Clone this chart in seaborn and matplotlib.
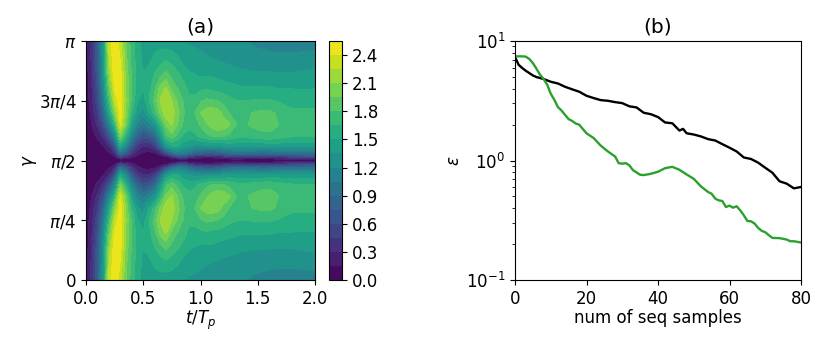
import numpy as np
import pandas as pd
import seaborn as sns
import matplotlib.pyplot as plt

# panel (a), values, lower half only (upper half is its mirror)
gamma_frac = [0, .1, .15, .2, .25, .3, .35, .4, .44, .47, .485, .495, .5]
t_vals = [0, .05, .1, .15, .2, .25, .3, .35, .4, .45, .5, .55, .6, .65, .7, .75, .8, .85, .9, .95,
          1.0, 1.05, 1.1, 1.15, 1.2, 1.25, 1.3, 1.35, 1.4, 1.45, 1.5, 1.55, 1.6, 1.65, 1.7, 1.75, 1.8, 1.9, 2.0]
# one list per t value, running up through gamma_frac
cols = [
    [.08, .07, .06, .05, .04, .03, .02, .01, 0, 0, 0, 0, 0],
    [.35, .33, .3, .28, .25, .2, .15, .1, .06, .03, .01, 0, 0],
    [.75, .72, .68, .62, .55, .45, .33, .17, .08, .03, .01, 0, 0],
    [1.35, 1.3, 1.25, 1.15, 1.02, .85, .62, .33, .15, .06, .02, .01, 0],
    [2.3, 2.2, 2.05, 1.9, 1.7, 1.45, 1.1, .65, .3, .12, .05, .01, 0],
    [2.53, 2.53, 2.5, 2.42, 2.3, 2.05, 1.65, 1.15, .65, .3, .12, .03, 0],
    [2.3, 2.42, 2.47, 2.5, 2.52, 2.48, 2.42, 2.0, 1.5, .95, .5, .13, .02],
    [1.95, 2.0, 2.05, 2.08, 2.1, 2.06, 1.95, 1.6, 1.2, .7, .35, .1, .02],
    [1.72, 1.76, 1.78, 1.78, 1.76, 1.65, 1.45, 1.1, .7, .4, .2, .07, .02],
    [1.55, 1.58, 1.6, 1.58, 1.52, 1.38, 1.15, .8, .42, .2, .1, .03, .01],
    [1.43, 1.48, 1.52, 1.5, 1.42, 1.28, 1.02, .62, .3, .12, .06, .02, .01],
    [1.42, 1.5, 1.55, 1.6, 1.65, 1.5, 1.15, .7, .32, .1, .05, .02, .01],
    [1.42, 1.58, 1.68, 1.78, 1.85, 1.72, 1.3, .85, .45, .12, .04, .02, .01],
    [1.42, 1.65, 1.8, 2.02, 2.12, 2.0, 1.65, 1.3, .85, .3, .07, .02, .01],
    [1.4, 1.7, 1.9, 2.13, 2.22, 2.2, 2.0, 1.75, 1.35, .6, .12, .03, .01],
    [1.4, 1.65, 1.78, 1.9, 2.1, 2.18, 2.12, 1.88, 1.5, .9, .3, .06, .01],
    [1.38, 1.58, 1.7, 1.8, 1.93, 2.0, 1.95, 1.75, 1.5, 1.1, .5, .1, .02],
    [1.35, 1.5, 1.62, 1.72, 1.8, 1.82, 1.78, 1.62, 1.4, 1.05, .55, .12, .02],
    [1.33, 1.45, 1.55, 1.62, 1.68, 1.7, 1.7, 1.58, 1.35, .95, .45, .09, .02],
    [1.32, 1.43, 1.52, 1.6, 1.7, 1.8, 1.75, 1.6, 1.28, .8, .3, .05, .01],
    [1.3, 1.42, 1.5, 1.62, 1.78, 1.95, 1.82, 1.68, 1.3, .75, .25, .04, .01],
    [1.28, 1.4, 1.5, 1.64, 1.83, 2.03, 1.93, 1.75, 1.3, .7, .22, .04, .01],
    [1.27, 1.38, 1.5, 1.62, 1.82, 2.05, 2.02, 1.8, 1.3, .68, .22, .05, .01],
    [1.26, 1.37, 1.48, 1.6, 1.8, 2.02, 2.08, 1.82, 1.32, .75, .27, .07, .02],
    [1.25, 1.36, 1.46, 1.58, 1.75, 1.9, 2.05, 1.8, 1.35, .82, .33, .09, .02],
    [1.23, 1.35, 1.45, 1.56, 1.7, 1.8, 1.98, 1.75, 1.38, .88, .4, .11, .02],
    [1.22, 1.33, 1.43, 1.54, 1.66, 1.75, 1.82, 1.7, 1.4, .92, .42, .12, .02],
    [1.21, 1.32, 1.42, 1.52, 1.65, 1.74, 1.77, 1.67, 1.4, .93, .42, .12, .02],
    [1.2, 1.31, 1.41, 1.52, 1.65, 1.76, 1.79, 1.68, 1.4, .93, .4, .1, .02],
    [1.18, 1.3, 1.4, 1.52, 1.66, 1.8, 1.83, 1.7, 1.4, .9, .38, .1, .02],
    [1.16, 1.29, 1.4, 1.52, 1.67, 1.82, 1.86, 1.72, 1.38, .88, .36, .1, .02],
    [1.15, 1.29, 1.4, 1.52, 1.67, 1.83, 1.88, 1.74, 1.38, .87, .35, .1, .02],
    [1.14, 1.28, 1.4, 1.52, 1.67, 1.83, 1.88, 1.74, 1.4, .88, .36, .11, .02],
    [1.13, 1.28, 1.39, 1.51, 1.65, 1.8, 1.84, 1.72, 1.4, .9, .38, .12, .02],
    [1.13, 1.28, 1.39, 1.5, 1.63, 1.74, 1.78, 1.7, 1.4, .92, .42, .13, .02],
    [1.13, 1.28, 1.39, 1.5, 1.61, 1.7, 1.74, 1.67, 1.4, .93, .45, .14, .02],
    [1.12, 1.28, 1.39, 1.5, 1.6, 1.68, 1.72, 1.66, 1.4, .95, .5, .15, .02],
    [1.12, 1.3, 1.4, 1.49, 1.6, 1.68, 1.72, 1.66, 1.4, .95, .52, .16, .02],
    [1.12, 1.32, 1.42, 1.5, 1.6, 1.68, 1.72, 1.65, 1.4, .95, .55, .18, .02],
]

# panel (b)
black_x = [0, 1, 2, 3, 4, 5, 6, 7, 8, 10, 12, 14, 16, 18, 20, 22, 24, 26, 28, 30, 32, 34, 36, 38, 40, 42, 44, 46, 47, 48, 50, 52, 54, 56, 58, 60, 62, 64, 66, 68, 70, 72, 74, 76, 78, 80]
black_y = [7.35, 6.33, 5.95, 5.64, 5.39, 5.15, 4.99, 4.9, 4.81, 4.56, 4.41, 4.14, 3.94, 3.76, 3.48, 3.33, 3.2, 3.16, 3.08, 3.02, 2.84, 2.78, 2.51, 2.44, 2.31, 2.08, 2.05, 1.78, 1.84, 1.69, 1.65, 1.59, 1.51, 1.47, 1.37, 1.28, 1.19, 1.06, 1.03, .96, .87, .79, .67, .64, .585, .6]
green_x = [0, 1, 2, 3, 4, 5, 6, 7, 8, 9, 10, 11, 12, 13, 14, 15, 16, 17, 18, 19, 20, 22, 24, 26, 28, 29, 30, 31, 32, 33, 35, 36, 38, 40, 42, 44, 46, 48, 50, 52, 54, 55, 56, 57, 58, 59, 60, 61, 62, 63, 64, 65, 66, 67, 68, 69, 70, 71, 72, 74, 76, 77, 78, 80]
green_y = [7.44, 7.44, 7.44, 7.4, 7.07, 6.54, 5.86, 5.22, 4.81, 4.31, 3.62, 3.22, 2.8, 2.62, 2.41, 2.22, 2.14, 2.04, 1.99, 1.83, 1.69, 1.54, 1.33, 1.19, 1.08, .95, .94, .95, .91, .83, .76, .755, .774, .805, .863, .885, .836, .764, .703, .607, .545, .527, .48, .464, .458, .408, .419, .403, .414, .383, .348, .312, .31, .297, .273, .258, .251, .237, .225, .224, .218, .211, .211, .206]

W, H = 830, 350
fig = plt.figure(figsize=(W / 100, H / 100), dpi=100)


def px_axes(x0, x1, y0, y1):
    return fig.add_axes([x0 / W, 1 - y1 / H, (x1 - x0) / W, (y1 - y0) / H])


ax1 = px_axes(86, 315, 41, 280)
cax = px_axes(329, 342, 41, 280)
ax2 = px_axes(515, 801, 41, 280)

# (a)
lower = np.array(cols).T
Z = np.vstack([lower, lower[-2::-1]])
gam = np.array(gamma_frac + [1 - g for g in gamma_frac[-2::-1]]) * np.pi
levels = np.arange(0, 2.56, 0.15)
cs = ax1.contourf(t_vals, gam, Z, levels=levels, cmap=sns.color_palette('viridis', as_cmap=True))
cb = fig.colorbar(cs, cax=cax, ticks=np.arange(0, 2.5, 0.3))
cb.ax.tick_params(labelsize=12)
ax1.set_xticks([0, 0.5, 1, 1.5, 2])
ax1.set_yticks([0, np.pi / 4, np.pi / 2, 3 * np.pi / 4, np.pi])
ax1.set_yticklabels(['0', r'$\pi/4$', r'$\pi/2$', r'$3\pi/4$', r'$\pi$'])
ax1.tick_params(labelsize=12)
ax1.set_xlabel(r'$t/T_p$', fontsize=12, labelpad=1)
ax1.set_ylabel(r'$\gamma$', fontsize=12, labelpad=0)
ax1.set_title('(a)', fontsize=14.5, pad=6)

# (b)
df_black = pd.DataFrame({'x': black_x, 'y': black_y})
df_green = pd.DataFrame({'x': green_x, 'y': green_y})
sns.lineplot(data=df_black, x='x', y='y', ax=ax2, color='k', lw=1.7)
sns.lineplot(data=df_green, x='x', y='y', ax=ax2, color='tab:green', lw=1.7)
ax2.set_yscale('log')
ax2.set_xlim(0, 80)
ax2.set_ylim(0.1, 10)
ax2.tick_params(labelsize=12)
ax2.set_xlabel('num of seq samples', fontsize=12, labelpad=1)
ax2.set_ylabel(r'$\epsilon$', fontsize=12, labelpad=2)
ax2.set_title('(b)', fontsize=14.5, pad=6)

plt.savefig('out.png', dpi=100)
